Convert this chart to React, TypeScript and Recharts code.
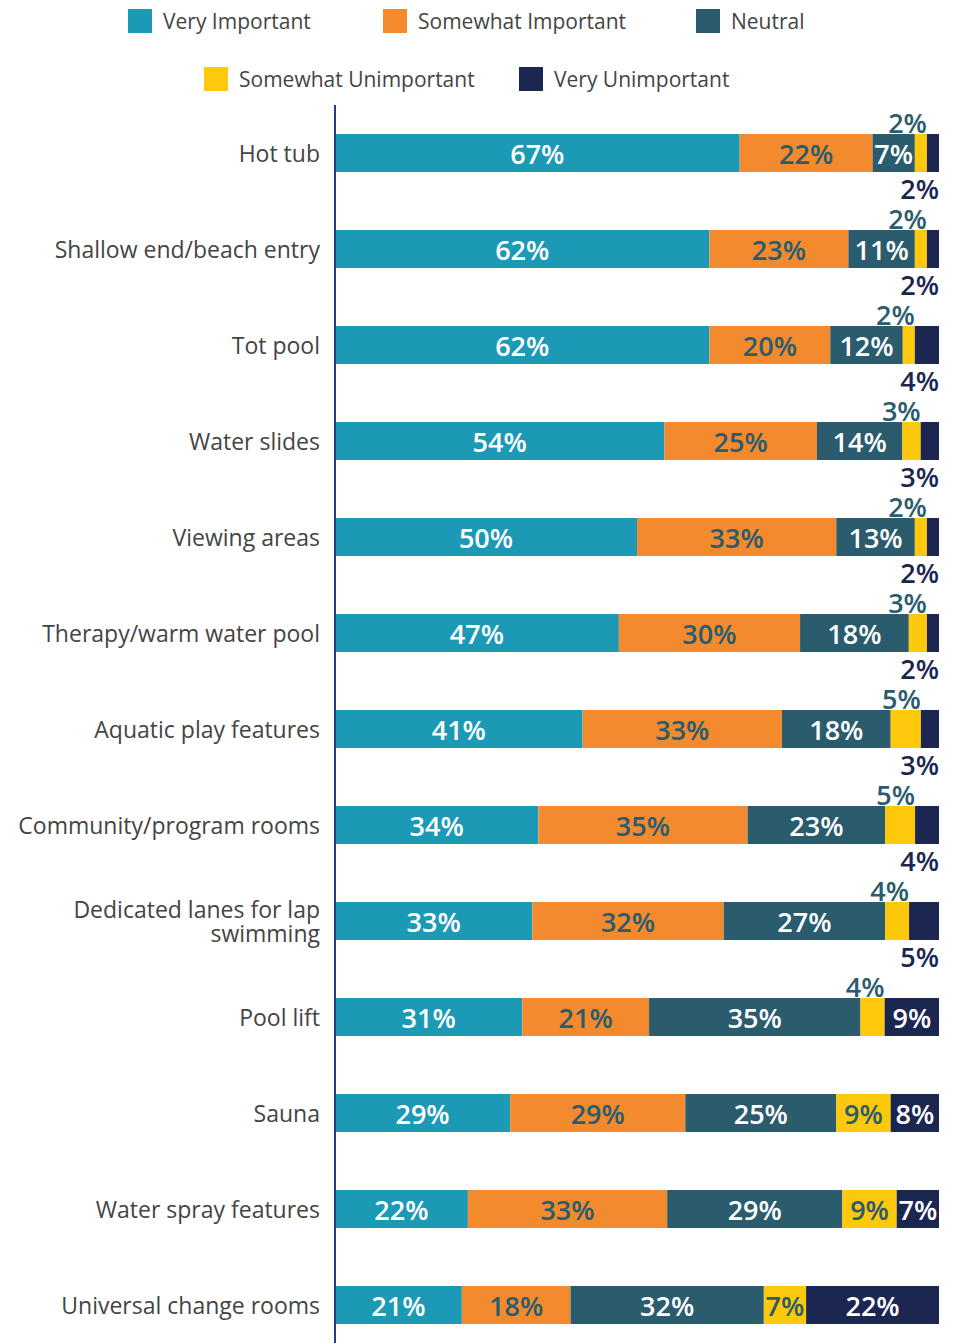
import React from 'react';
import { BarChart, Bar, XAxis, YAxis, Legend, LabelList } from 'recharts';

const categories = [
  'Hot tub',
  'Shallow end/beach entry',
  'Tot pool',
  'Water slides',
  'Viewing areas',
  'Therapy/warm water pool',
  'Aquatic play features',
  'Community/program rooms',
  'Dedicated lanes for lap swimming',
  'Pool lift',
  'Sauna',
  'Water spray features',
  'Universal change rooms',
];

const veryImportant = [67, 62, 62, 54, 50, 47, 41, 34, 33, 31, 29, 22, 21];
const somewhatImportant = [22, 23, 20, 25, 33, 30, 33, 35, 32, 21, 29, 33, 18];
const neutral = [7, 11, 12, 14, 13, 18, 18, 23, 27, 35, 25, 29, 32];
const somewhatUnimportant = [2, 2, 2, 3, 2, 3, 5, 5, 4, 4, 9, 9, 7];
const veryUnimportant = [2, 2, 4, 3, 2, 2, 3, 4, 5, 9, 8, 7, 22];

const COLORS = {
  vi: '#1C9AB5',
  si: '#F48A2E',
  ne: '#2A5C6D',
  su: '#FEC80B',
  vu: '#1B2651',
};

const FONT = '"Open Sans", "Noto Sans", sans-serif';

const data = categories.map((name, i) => ({
  name,
  vi: veryImportant[i],
  si: somewhatImportant[i],
  ne: neutral[i],
  su: somewhatUnimportant[i],
  vu: veryUnimportant[i],
}));

const series = [
  { key: 'vi', label: 'Very Important', text: '#ffffff' },
  { key: 'si', label: 'Somewhat Important', text: COLORS.ne },
  { key: 'ne', label: 'Neutral', text: '#ffffff' },
  { key: 'su', label: 'Somewhat Unimportant', text: COLORS.ne },
  { key: 'vu', label: 'Very Unimportant', text: '#ffffff' },
];

// legend item positions, two centred rows
const legendPos: Record<string, { x: number; y: number }> = {
  vi: { x: 128, y: 9 },
  si: { x: 383, y: 9 },
  ne: { x: 696, y: 9 },
  su: { x: 204, y: 67 },
  vu: { x: 519, y: 67 },
};

const renderLegend = () => (
  <div style={{ position: 'relative', width: 954, height: 100, fontFamily: FONT }}>
    {series.map((s) => (
      <div
        key={s.key}
        style={{
          position: 'absolute',
          left: legendPos[s.key].x,
          top: legendPos[s.key].y,
          display: 'flex',
          alignItems: 'center',
          height: 24,
        }}
      >
        <span style={{ width: 24, height: 24, background: (COLORS as any)[s.key], display: 'inline-block' }} />
        <span style={{ marginLeft: 11, fontSize: 21, color: '#444', whiteSpace: 'nowrap' }}>{s.label}</span>
      </div>
    ))}
  </div>
);

const CategoryTick = ({ x, y, payload }: any) => {
  const words = String(payload.value).split(' ');
  const lines: string[] = [];
  let cur = '';
  words.forEach((w) => {
    const next = cur ? cur + ' ' + w : w;
    if (next.length > 24 && cur) {
      lines.push(cur);
      cur = w;
    } else {
      cur = next;
    }
  });
  lines.push(cur);
  const lh = 24;
  const start = y - ((lines.length - 1) * lh) / 2;
  return (
    <text x={x} y={start} textAnchor="end" fontFamily={FONT} fontSize={23} fill="#444">
      {lines.map((l, i) => (
        <tspan key={i} x={x} y={start + i * lh} dominantBaseline="central">
          {l}
        </tspan>
      ))}
    </text>
  );
};

const makeLabel = (key: string, textColor: string) => (props: any) => {
  const vb = props.viewBox || {};
  const x = props.x ?? vb.x;
  const y = props.y ?? vb.y;
  const width = props.width ?? vb.width;
  const height = props.height ?? vb.height;
  const value = props.value;
  const common = { fontFamily: FONT, fontSize: 27, fontWeight: 600 };
  if (key === 'su' && value < 6) {
    return (
      <text x={x + width} y={y - 12} textAnchor="end" dominantBaseline="central" fill={COLORS.ne} {...common}>
        {value}%
      </text>
    );
  }
  if (key === 'vu' && value < 6) {
    return (
      <text x={x + width} y={y + height + 16} textAnchor="end" dominantBaseline="central" fill={COLORS.vu} {...common}>
        {value}%
      </text>
    );
  }
  return (
    <text x={x + width / 2} y={y + height / 2} textAnchor="middle" dominantBaseline="central" fill={textColor} {...common}>
      {value}%
    </text>
  );
};

export default function App() {
  return (
    <div style={{ position: 'absolute', left: 0, top: 0, width: 954, height: 1343, overflow: 'hidden', background: '#fff' }}>
      <BarChart
        width={954}
        height={1360}
        data={data}
        layout="vertical"
        stackOffset="expand"
        barSize={38}
        barCategoryGap={0}
        margin={{ top: 5, right: 15, bottom: 7, left: 0 }}
      >
        <Legend verticalAlign="top" align="left" content={renderLegend} wrapperStyle={{ top: 0, left: 0 }} />
        <XAxis type="number" domain={[0, 1]} hide />
        <YAxis
          type="category"
          dataKey="name"
          width={335}
          tickLine={false}
          tickMargin={9}
          axisLine={{ stroke: '#24407F', strokeWidth: 2 }}
          tick={<CategoryTick />}
          interval={0}
        />
        {series.map((s) => (
          <Bar key={s.key} dataKey={s.key} stackId="a" fill={(COLORS as any)[s.key]} isAnimationActive={false}>
            <LabelList dataKey={s.key} content={makeLabel(s.key, s.text)} />
          </Bar>
        ))}
      </BarChart>
    </div>
  );
}
